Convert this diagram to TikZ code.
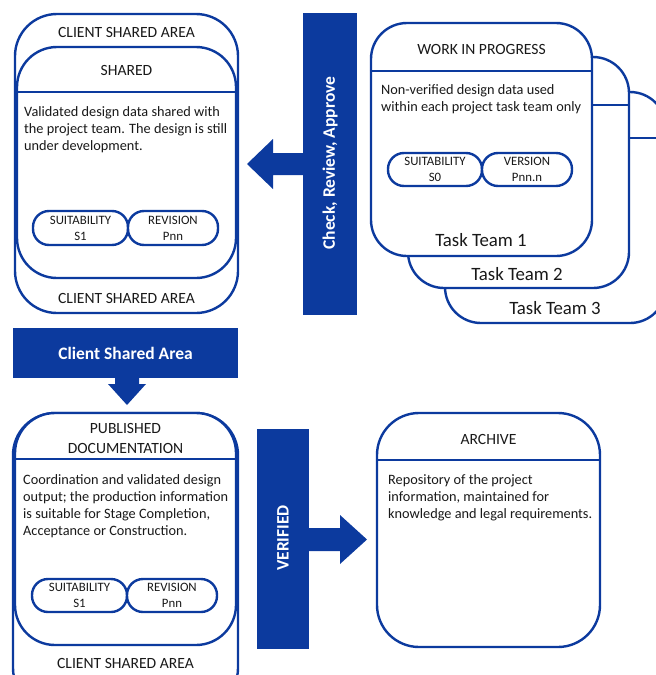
\documentclass[tikz,border=0pt]{standalone}
\usepackage{fontspec}
\setmainfont{Carlito}
\usetikzlibrary{fit}
\definecolor{bimblue}{RGB}{12,58,158}
\definecolor{ink}{RGB}{25,25,25}
\begin{document}
\begin{tikzpicture}[x=1pt,y=-1pt,
  frame/.style={draw=bimblue, line width=2.4pt, fill=white, rounded corners=#1, inner sep=0pt},
  frame/.default=40pt,
  divider/.style={draw=bimblue, line width=2.4pt},
  pill/.style={draw=bimblue, line width=2.4pt, fill=white, rounded corners=16pt, inner sep=0pt},
  pilltext/.style={font=\fontsize{12.8}{16}\selectfont, align=center, text=ink, inner sep=0pt},
  head/.style={font=\fontsize{15.6}{20}\selectfont, align=center, text=ink, inner sep=0pt},
  body/.style={font=\fontsize{14.3}{17}\selectfont, align=left, text=ink, inner sep=0pt, anchor=north west},
  team/.style={font=\fontsize{18.8}{22}\selectfont, text=ink, inner sep=0pt},
  bar/.style={fill=bimblue},
  bartext/.style={font=\bfseries\fontsize{17.5}{20}\selectfont, text=white, inner sep=0pt}
]
\useasboundingbox (0,0) rectangle (656,675);

% ---------- Shared (client shared area) ----------
\node[frame=42pt, fit={(15,14) (238,313)}] (csa) {};
\node[frame=40pt, fit={(17,47) (236,278)}] (shared) {};
\draw[divider] (shared.west |- 0,92) -- (shared.east |- 0,92);
\node[head] (csaTop) at (126.5,32) {CLIENT SHARED AREA};
\node[head] (sharedTitle) at (126.5,70) {SHARED};
\node[body] (sharedBody) at (24,106) {Validated design data shared with\\the project team. The design is still\\under development.};
\node[pill, fit={(33,211) (128,245)}] (sharedSuit) {};
\node[pill, fit={(128,211) (218,245)}] (sharedRev) {};
\node[pilltext] at (sharedSuit.center) {SUITABILITY\\S1};
\node[pilltext] at (sharedRev.center) {REVISION\\Pnn};
\node[head] (csaBottom) at (126.5,298) {CLIENT SHARED AREA};

% ---------- Check, Review, Approve ----------
\fill[bar] (303,13) rectangle (357,315);
\fill[bar] (303,153) -- (273,153) -- (273,139) -- (247,164) -- (273,189) -- (273,175) -- (303,175) -- cycle;
\node[bartext, rotate=90] (check) at (330,163) {Check, Review, Approve};

% ---------- Task teams (work in progress) ----------
\node[frame=36pt, fit={(445,92) (666,323)}] (tt3) {};
\draw[divider] (tt3.west |- 0,138) -- (tt3.east |- 0,138);
\node[team] (tt3label) at (555,308) {Task Team 3};
\node[frame=36pt, fit={(408,57) (629,288)}] (tt2) {};
\draw[divider] (tt2.west |- 0,105) -- (tt2.east |- 0,105);
\node[team] (tt2label) at (517,274) {Task Team 2};
\node[frame=36pt, fit={(371,23) (592,256)}] (tt1) {};
\draw[divider] (tt1.west |- 0,71) -- (tt1.east |- 0,71);
\node[team] (tt1label) at (481,240) {Task Team 1};
\node[head] (wipTitle) at (481.5,49) {WORK IN PROGRESS};
\node[body] (wipBody) at (381,84) {Non-verified design data used\\within each project task team only};
\node[pill, fit={(388,153) (482,186)}] (wipSuit) {};
\node[pill, fit={(482,153) (572,186)}] (wipVer) {};
\node[pilltext] at (wipSuit.center) {SUITABILITY\\S0};
\node[pilltext] at (wipVer.center) {VERSION\\Pnn.n};

% ---------- Client Shared Area banner ----------
\fill[bar] (13,328) rectangle (238,378);
\node[bartext] (banner) at (125.5,353) {Client Shared Area};
\fill[bar] (115,377) -- (139,377) -- (139,384) -- (146,384) -- (127,405) -- (108,384) -- (115,384) -- cycle;

% ---------- Published documentation ----------
\node[frame=42pt, fit={(13,413) (238,710)}] (csaPub) {};
\node[frame=40pt, fit={(15,413) (236,645)}] (published) {};
\draw[divider] (published.west |- 0,459) -- (published.east |- 0,459);
\node[head] (pubTitle) at (125.5,438) {PUBLISHED\\DOCUMENTATION};
\node[body] (pubBody) at (23,474) {Coordination and validated design\\output; the production information\\is suitable for Stage Completion,\\Acceptance or Construction.};
\node[pill, fit={(32,579) (127,612)}] (pubSuit) {};
\node[pill, fit={(127,579) (217,612)}] (pubRev) {};
\node[pilltext] at (pubSuit.center) {SUITABILITY\\S1};
\node[pilltext] at (pubRev.center) {REVISION\\Pnn};
\node[head] (csaPubBottom) at (125.5,663) {CLIENT SHARED AREA};

% ---------- Verified ----------
\fill[bar] (257,429) rectangle (309,649);
\fill[bar] (309,528) -- (340,528) -- (340,515) -- (367,539.5) -- (340,564) -- (340,551) -- (309,551) -- cycle;
\node[bartext, rotate=90] (verified) at (283,538) {VERIFIED};

% ---------- Archive ----------
\node[frame=42pt, fit={(377,413) (600,647)}] (archive) {};
\draw[divider] (archive.west |- 0,460) -- (archive.east |- 0,460);
\node[head] (archTitle) at (488.5,439) {ARCHIVE};
\node[body] (archBody) at (388,474) {Repository of the project\\information, maintained for\\knowledge and legal requirements.};
\end{tikzpicture}
\end{document}
